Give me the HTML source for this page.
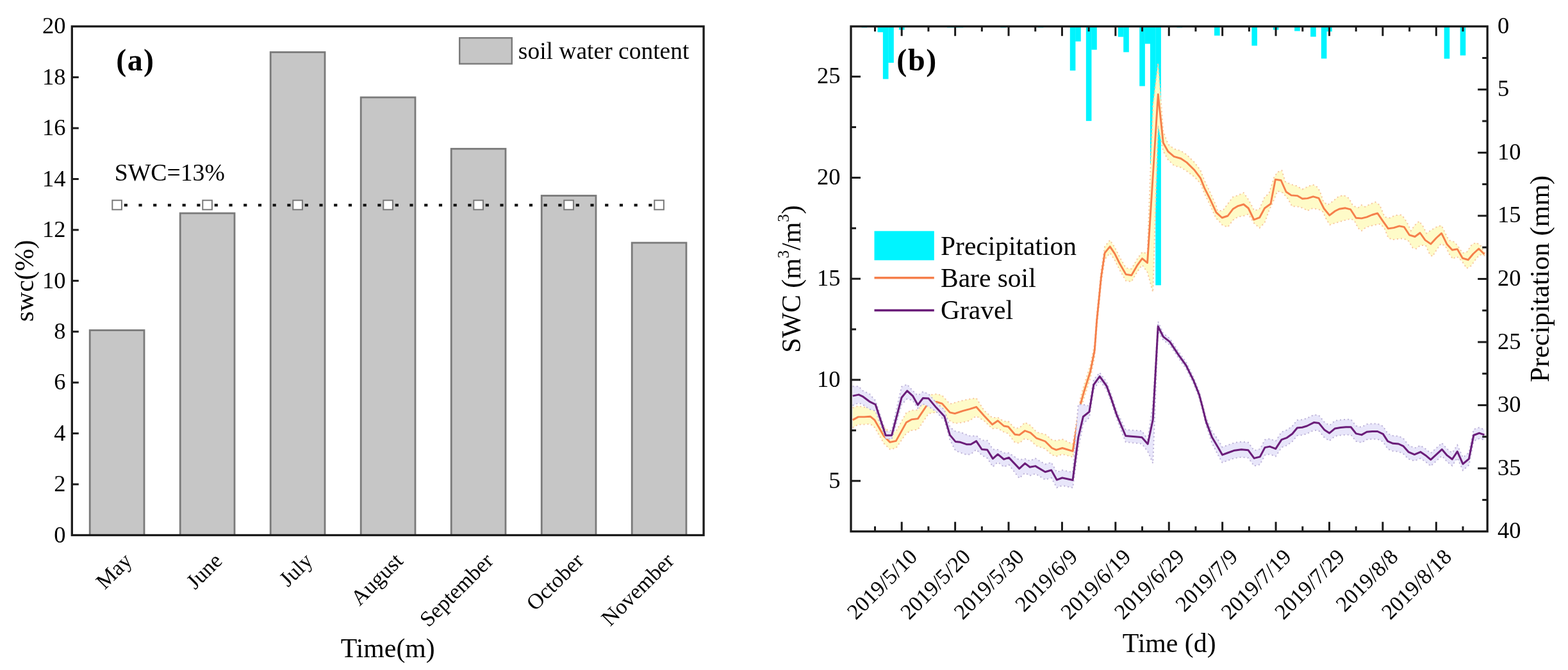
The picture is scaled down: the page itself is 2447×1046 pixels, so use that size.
<!DOCTYPE html>
<html><head><meta charset="utf-8"><title>Soil water content figure</title>
<style>html,body{margin:0;padding:0;background:#fff;overflow:hidden;}svg{display:block;}</style></head>
<body><svg width="2447" height="1046" viewBox="0 0 2447 1046" font-family="Liberation Serif, Times New Roman, serif" fill="#000">
<rect x="0" y="0" width="2447" height="1046" fill="#fff"/>
<rect x="140.20" y="515.60" width="84.8" height="319.90" fill="#c6c6c6" stroke="#7a7a7a" stroke-width="2.8"/>
<rect x="281.20" y="332.91" width="84.8" height="502.59" fill="#c6c6c6" stroke="#7a7a7a" stroke-width="2.8"/>
<rect x="422.20" y="81.51" width="84.8" height="753.99" fill="#c6c6c6" stroke="#7a7a7a" stroke-width="2.8"/>
<rect x="563.20" y="152.00" width="84.8" height="683.50" fill="#c6c6c6" stroke="#7a7a7a" stroke-width="2.8"/>
<rect x="704.20" y="232.31" width="84.8" height="603.19" fill="#c6c6c6" stroke="#7a7a7a" stroke-width="2.8"/>
<rect x="845.20" y="305.50" width="84.8" height="530.00" fill="#c6c6c6" stroke="#7a7a7a" stroke-width="2.8"/>
<rect x="986.20" y="379.02" width="84.8" height="456.48" fill="#c6c6c6" stroke="#7a7a7a" stroke-width="2.8"/>
<rect x="193.70" y="318.2" width="5.2" height="4.2" fill="#111"/>
<rect x="216.42" y="318.2" width="5.2" height="4.2" fill="#111"/>
<rect x="239.14" y="318.2" width="5.2" height="4.2" fill="#111"/>
<rect x="261.86" y="318.2" width="5.2" height="4.2" fill="#111"/>
<rect x="284.58" y="318.2" width="5.2" height="4.2" fill="#111"/>
<rect x="307.30" y="318.2" width="5.2" height="4.2" fill="#111"/>
<rect x="334.70" y="318.2" width="5.2" height="4.2" fill="#111"/>
<rect x="357.42" y="318.2" width="5.2" height="4.2" fill="#111"/>
<rect x="380.14" y="318.2" width="5.2" height="4.2" fill="#111"/>
<rect x="402.86" y="318.2" width="5.2" height="4.2" fill="#111"/>
<rect x="425.58" y="318.2" width="5.2" height="4.2" fill="#111"/>
<rect x="448.30" y="318.2" width="5.2" height="4.2" fill="#111"/>
<rect x="475.70" y="318.2" width="5.2" height="4.2" fill="#111"/>
<rect x="498.42" y="318.2" width="5.2" height="4.2" fill="#111"/>
<rect x="521.14" y="318.2" width="5.2" height="4.2" fill="#111"/>
<rect x="543.86" y="318.2" width="5.2" height="4.2" fill="#111"/>
<rect x="566.58" y="318.2" width="5.2" height="4.2" fill="#111"/>
<rect x="589.30" y="318.2" width="5.2" height="4.2" fill="#111"/>
<rect x="616.70" y="318.2" width="5.2" height="4.2" fill="#111"/>
<rect x="639.42" y="318.2" width="5.2" height="4.2" fill="#111"/>
<rect x="662.14" y="318.2" width="5.2" height="4.2" fill="#111"/>
<rect x="684.86" y="318.2" width="5.2" height="4.2" fill="#111"/>
<rect x="707.58" y="318.2" width="5.2" height="4.2" fill="#111"/>
<rect x="730.30" y="318.2" width="5.2" height="4.2" fill="#111"/>
<rect x="757.70" y="318.2" width="5.2" height="4.2" fill="#111"/>
<rect x="780.42" y="318.2" width="5.2" height="4.2" fill="#111"/>
<rect x="803.14" y="318.2" width="5.2" height="4.2" fill="#111"/>
<rect x="825.86" y="318.2" width="5.2" height="4.2" fill="#111"/>
<rect x="848.58" y="318.2" width="5.2" height="4.2" fill="#111"/>
<rect x="871.30" y="318.2" width="5.2" height="4.2" fill="#111"/>
<rect x="898.70" y="318.2" width="5.2" height="4.2" fill="#111"/>
<rect x="921.42" y="318.2" width="5.2" height="4.2" fill="#111"/>
<rect x="944.14" y="318.2" width="5.2" height="4.2" fill="#111"/>
<rect x="966.86" y="318.2" width="5.2" height="4.2" fill="#111"/>
<rect x="989.58" y="318.2" width="5.2" height="4.2" fill="#111"/>
<rect x="1012.30" y="318.2" width="5.2" height="4.2" fill="#111"/>
<rect x="175.30" y="312.7" width="14.6" height="14.6" fill="#fff" stroke="#7a7a7a" stroke-width="2"/>
<rect x="316.30" y="312.7" width="14.6" height="14.6" fill="#fff" stroke="#7a7a7a" stroke-width="2"/>
<rect x="457.30" y="312.7" width="14.6" height="14.6" fill="#fff" stroke="#7a7a7a" stroke-width="2"/>
<rect x="598.30" y="312.7" width="14.6" height="14.6" fill="#fff" stroke="#7a7a7a" stroke-width="2"/>
<rect x="739.30" y="312.7" width="14.6" height="14.6" fill="#fff" stroke="#7a7a7a" stroke-width="2"/>
<rect x="880.30" y="312.7" width="14.6" height="14.6" fill="#fff" stroke="#7a7a7a" stroke-width="2"/>
<rect x="1021.30" y="312.7" width="14.6" height="14.6" fill="#fff" stroke="#7a7a7a" stroke-width="2"/>
<rect x="112.3" y="41.2" width="985.80" height="794.30" fill="none" stroke="#1a1a1a" stroke-width="3.3"/>
<line x1="112.3" y1="756.07" x2="122.8" y2="756.07" stroke="#1a1a1a" stroke-width="3"/>
<line x1="112.3" y1="676.64" x2="122.8" y2="676.64" stroke="#1a1a1a" stroke-width="3"/>
<line x1="112.3" y1="597.21" x2="122.8" y2="597.21" stroke="#1a1a1a" stroke-width="3"/>
<line x1="112.3" y1="517.78" x2="122.8" y2="517.78" stroke="#1a1a1a" stroke-width="3"/>
<line x1="112.3" y1="438.35" x2="122.8" y2="438.35" stroke="#1a1a1a" stroke-width="3"/>
<line x1="112.3" y1="358.92" x2="122.8" y2="358.92" stroke="#1a1a1a" stroke-width="3"/>
<line x1="112.3" y1="279.49" x2="122.8" y2="279.49" stroke="#1a1a1a" stroke-width="3"/>
<line x1="112.3" y1="200.06" x2="122.8" y2="200.06" stroke="#1a1a1a" stroke-width="3"/>
<line x1="112.3" y1="120.63" x2="122.8" y2="120.63" stroke="#1a1a1a" stroke-width="3"/>
<text x="102.5" y="846.70" text-anchor="end" font-size="36.5">0</text>
<text x="102.5" y="767.27" text-anchor="end" font-size="36.5">2</text>
<text x="102.5" y="687.84" text-anchor="end" font-size="36.5">4</text>
<text x="102.5" y="608.41" text-anchor="end" font-size="36.5">6</text>
<text x="102.5" y="528.98" text-anchor="end" font-size="36.5">8</text>
<text x="102.5" y="449.55" text-anchor="end" font-size="36.5">10</text>
<text x="102.5" y="370.12" text-anchor="end" font-size="36.5">12</text>
<text x="102.5" y="290.69" text-anchor="end" font-size="36.5">14</text>
<text x="102.5" y="211.26" text-anchor="end" font-size="36.5">16</text>
<text x="102.5" y="131.83" text-anchor="end" font-size="36.5">18</text>
<text x="102.5" y="52.40" text-anchor="end" font-size="36.5">20</text>
<rect x="717.2" y="59.2" width="81.6" height="40.4" fill="#c6c6c6" stroke="#7a7a7a" stroke-width="2.4"/>
<text x="808.8" y="91.6" font-size="37.5">soil water content</text>
<text x="181.3" y="110" font-size="48" font-weight="bold" letter-spacing="1.4">(a)</text>
<text x="178.8" y="282.1" font-size="37.7">SWC=13%</text>
<text x="207.70" y="877.5" text-anchor="end" transform="rotate(-45 207.70 877.5)" font-size="34.0">May</text>
<text x="348.70" y="877.5" text-anchor="end" transform="rotate(-45 348.70 877.5)" font-size="34.0">June</text>
<text x="489.70" y="877.5" text-anchor="end" transform="rotate(-45 489.70 877.5)" font-size="34.0">July</text>
<text x="630.70" y="877.5" text-anchor="end" transform="rotate(-45 630.70 877.5)" font-size="34.0">August</text>
<text x="771.70" y="877.5" text-anchor="end" transform="rotate(-45 771.70 877.5)" font-size="34.0">September</text>
<text x="912.70" y="877.5" text-anchor="end" transform="rotate(-45 912.70 877.5)" font-size="34.0">October</text>
<text x="1053.70" y="877.5" text-anchor="end" transform="rotate(-45 1053.70 877.5)" font-size="34.0">November</text>
<text x="605.2" y="1026" text-anchor="middle" font-size="41.8">Time(m)</text>
<text x="52.2" y="438.4" text-anchor="middle" transform="rotate(-90 52.2 438.4)" font-size="41.8">swc(%)</text>
<rect x="1344.51" y="41.20" width="8.6" height="1.97" fill="#00f4ff"/>
<rect x="1369.54" y="41.20" width="8.6" height="9.07" fill="#00f4ff"/>
<rect x="1377.88" y="41.20" width="8.6" height="82.20" fill="#00f4ff"/>
<rect x="1386.22" y="41.20" width="8.6" height="56.77" fill="#00f4ff"/>
<rect x="1402.90" y="41.20" width="8.6" height="5.32" fill="#00f4ff"/>
<rect x="1477.97" y="41.20" width="8.6" height="1.97" fill="#00f4ff"/>
<rect x="1486.31" y="41.20" width="8.6" height="1.97" fill="#00f4ff"/>
<rect x="1494.65" y="41.20" width="8.6" height="1.97" fill="#00f4ff"/>
<rect x="1561.38" y="41.20" width="8.6" height="1.97" fill="#00f4ff"/>
<rect x="1619.77" y="41.20" width="8.6" height="1.97" fill="#00f4ff"/>
<rect x="1669.81" y="41.20" width="8.6" height="68.99" fill="#00f4ff"/>
<rect x="1678.15" y="41.20" width="8.6" height="23.46" fill="#00f4ff"/>
<rect x="1694.84" y="41.20" width="8.6" height="147.65" fill="#00f4ff"/>
<rect x="1703.18" y="41.20" width="8.6" height="36.47" fill="#00f4ff"/>
<rect x="1744.88" y="41.20" width="8.6" height="16.36" fill="#00f4ff"/>
<rect x="1753.22" y="41.20" width="8.6" height="40.21" fill="#00f4ff"/>
<rect x="1778.25" y="41.20" width="8.6" height="93.24" fill="#00f4ff"/>
<rect x="1786.59" y="41.20" width="8.6" height="27.20" fill="#00f4ff"/>
<rect x="1794.93" y="41.20" width="8.6" height="213.88" fill="#00f4ff"/>
<rect x="1803.27" y="41.20" width="8.6" height="404.11" fill="#00f4ff"/>
<rect x="1836.63" y="41.20" width="8.6" height="1.97" fill="#00f4ff"/>
<rect x="1895.02" y="41.20" width="8.6" height="14.39" fill="#00f4ff"/>
<rect x="1953.41" y="41.20" width="8.6" height="30.16" fill="#00f4ff"/>
<rect x="1986.77" y="41.20" width="8.6" height="5.32" fill="#00f4ff"/>
<rect x="2020.13" y="41.20" width="8.6" height="7.29" fill="#00f4ff"/>
<rect x="2045.16" y="41.20" width="8.6" height="16.16" fill="#00f4ff"/>
<rect x="2061.84" y="41.20" width="8.6" height="50.27" fill="#00f4ff"/>
<rect x="2070.18" y="41.20" width="8.6" height="8.08" fill="#00f4ff"/>
<rect x="2253.68" y="41.20" width="8.6" height="50.46" fill="#00f4ff"/>
<rect x="2278.70" y="41.20" width="8.6" height="45.34" fill="#00f4ff"/>
<polygon points="1330.7,636.7 1339.4,633.8 1348.8,635.7 1358.1,635.2 1364.8,640.6 1379.5,666.0 1388.9,675.4 1398.3,673.4 1414.3,644.6 1422.4,640.6 1432.4,640.2 1449.1,616.8 1461.7,615.1 1470.3,617.5 1482.4,630.7 1490.1,628.6 1503.0,625.1 1513.3,623.1 1523.6,621.6 1535.7,640.8 1548.6,652.2 1557.2,651.8 1566.6,657.8 1573.5,657.8 1583.8,668.7 1590.7,668.2 1599.5,659.6 1608.2,664.2 1617.7,674.7 1631.1,678.1 1641.6,686.6 1648.3,688.1 1657.9,685.8 1674.1,693.5 1686.1,621.4 1691.3,602.7 1701.6,570.0 1708.2,537.3 1711.7,490.0 1714.8,459.4 1718.5,422.1 1724.1,384.9 1732.2,374.9 1739.7,386.1 1747.1,401.0 1757.1,418.4 1765.8,419.7 1774.5,404.7 1782.5,393.6 1790.6,396.0 1799.2,165.0 1807.3,98.6 1815.3,205.0 1823.0,225.3 1832.1,232.4 1842.9,235.5 1852.0,241.6 1864.3,253.8 1873.5,266.1 1879.6,281.8 1888.8,300.8 1898.0,321.4 1900.0,329.0 1908.0,329.0 1916.1,318.3 1924.1,307.6 1932.1,304.9 1940.8,300.9 1948.2,311.6 1957.6,329.0 1965.6,326.0 1973.6,307.6 1980.3,302.2 1988.4,276.8 1993.7,268.7 2000.4,266.1 2005.8,283.5 2013.8,287.5 2023.2,290.2 2032.5,295.5 2040.6,291.5 2047.3,288.8 2050.0,288.7 2055.4,292.0 2060.0,298.7 2064.7,313.5 2071.4,320.1 2079.4,314.8 2088.8,306.8 2096.8,304.8 2104.9,309.4 2111.6,321.5 2119.6,324.2 2124.9,320.1 2130.3,322.8 2138.3,318.8 2146.3,315.5 2153.0,320.1 2161.1,338.9 2169.1,340.2 2177.1,336.2 2186.5,335.5 2190.0,338.7 2195.4,346.8 2202.0,360.2 2207.4,352.1 2214.8,345.4 2220.8,353.5 2226.1,364.2 2234.2,358.8 2243.5,353.5 2249.6,352.1 2255.6,364.2 2260.9,374.9 2269.0,377.6 2274.3,382.9 2282.4,395.0 2289.0,393.6 2297.1,381.6 2303.8,378.9 2310.5,382.9 2317.2,395.0 2317.2,399.0 2309.1,397.6 2302.4,405.7 2295.7,415.0 2289.0,419.0 2281.0,407.0 2273.0,400.3 2267.6,404.3 2262.3,397.6 2255.6,384.2 2248.9,380.2 2242.2,389.6 2235.5,400.3 2231.5,397.6 2224.8,382.9 2216.8,382.9 2210.1,388.3 2204.7,386.9 2198.0,376.2 2190.0,372.2 2189.2,372.3 2181.1,373.0 2173.1,374.3 2166.4,371.0 2161.1,357.6 2154.4,349.6 2146.3,350.9 2138.3,352.9 2131.6,354.9 2124.9,360.3 2119.6,356.3 2114.2,345.6 2108.9,341.6 2102.2,342.9 2092.8,345.6 2083.5,348.2 2075.4,350.9 2070.1,342.9 2064.7,330.8 2058.0,326.8 2050.0,325.5 2048.6,325.0 2040.6,329.0 2033.9,325.0 2024.5,322.3 2016.5,322.3 2009.8,310.2 2001.8,300.9 1993.7,298.2 1987.0,314.3 1980.3,329.0 1973.6,347.7 1965.6,355.8 1957.6,349.1 1948.2,334.3 1940.8,337.0 1932.1,338.4 1924.1,343.7 1916.1,354.4 1908.0,351.8 1900.0,342.4 1898.0,341.4 1888.8,320.8 1879.6,301.8 1873.5,286.5 1864.3,276.4 1852.0,267.1 1842.9,261.5 1832.1,258.4 1823.0,249.5 1815.3,236.0 1807.3,196.0 1799.2,456.0 1790.6,425.0 1782.5,413.6 1774.5,424.7 1765.8,439.7 1757.1,438.4 1747.1,421.0 1739.7,406.1 1732.2,394.9 1724.1,404.9 1718.5,442.1 1714.8,479.4 1711.7,510.0 1708.2,557.3 1701.6,590.0 1691.3,622.7 1686.1,641.4 1674.1,713.4 1657.9,709.1 1648.3,712.5 1641.6,710.1 1631.1,700.6 1617.7,696.2 1608.2,687.6 1599.5,684.5 1590.7,691.8 1583.8,690.8 1573.5,677.0 1566.6,674.4 1557.2,668.7 1548.6,669.2 1535.7,656.9 1523.6,649.6 1513.3,656.6 1503.0,659.3 1490.1,661.1 1482.4,657.0 1470.3,644.9 1461.7,643.4 1449.1,645.8 1432.4,670.6 1422.4,671.9 1414.3,676.6 1398.3,699.5 1388.9,701.5 1379.5,692.3 1364.8,667.1 1358.1,661.8 1348.8,662.6 1339.4,662.8 1330.7,667.6" fill="#fefbc8"/>
<polyline points="1330.7,636.7 1339.4,633.8 1348.8,635.7 1358.1,635.2 1364.8,640.6 1379.5,666.0 1388.9,675.4 1398.3,673.4 1414.3,644.6 1422.4,640.6 1432.4,640.2 1449.1,616.8 1461.7,615.1 1470.3,617.5 1482.4,630.7 1490.1,628.6 1503.0,625.1 1513.3,623.1 1523.6,621.6 1535.7,640.8 1548.6,652.2 1557.2,651.8 1566.6,657.8 1573.5,657.8 1583.8,668.7 1590.7,668.2 1599.5,659.6 1608.2,664.2 1617.7,674.7 1631.1,678.1 1641.6,686.6 1648.3,688.1 1657.9,685.8 1674.1,693.5 1686.1,621.4 1691.3,602.7 1701.6,570.0 1708.2,537.3 1711.7,490.0 1714.8,459.4 1718.5,422.1 1724.1,384.9 1732.2,374.9 1739.7,386.1 1747.1,401.0 1757.1,418.4 1765.8,419.7 1774.5,404.7 1782.5,393.6 1790.6,396.0 1799.2,165.0 1807.3,98.6 1815.3,205.0 1823.0,225.3 1832.1,232.4 1842.9,235.5 1852.0,241.6 1864.3,253.8 1873.5,266.1 1879.6,281.8 1888.8,300.8 1898.0,321.4 1900.0,329.0 1908.0,329.0 1916.1,318.3 1924.1,307.6 1932.1,304.9 1940.8,300.9 1948.2,311.6 1957.6,329.0 1965.6,326.0 1973.6,307.6 1980.3,302.2 1988.4,276.8 1993.7,268.7 2000.4,266.1 2005.8,283.5 2013.8,287.5 2023.2,290.2 2032.5,295.5 2040.6,291.5 2047.3,288.8 2050.0,288.7 2055.4,292.0 2060.0,298.7 2064.7,313.5 2071.4,320.1 2079.4,314.8 2088.8,306.8 2096.8,304.8 2104.9,309.4 2111.6,321.5 2119.6,324.2 2124.9,320.1 2130.3,322.8 2138.3,318.8 2146.3,315.5 2153.0,320.1 2161.1,338.9 2169.1,340.2 2177.1,336.2 2186.5,335.5 2190.0,338.7 2195.4,346.8 2202.0,360.2 2207.4,352.1 2214.8,345.4 2220.8,353.5 2226.1,364.2 2234.2,358.8 2243.5,353.5 2249.6,352.1 2255.6,364.2 2260.9,374.9 2269.0,377.6 2274.3,382.9 2282.4,395.0 2289.0,393.6 2297.1,381.6 2303.8,378.9 2310.5,382.9 2317.2,395.0" fill="none" stroke="#f7c6a0" stroke-width="2" stroke-dasharray="2 4"/>
<polyline points="1330.7,667.6 1339.4,662.8 1348.8,662.6 1358.1,661.8 1364.8,667.1 1379.5,692.3 1388.9,701.5 1398.3,699.5 1414.3,676.6 1422.4,671.9 1432.4,670.6 1449.1,645.8 1461.7,643.4 1470.3,644.9 1482.4,657.0 1490.1,661.1 1503.0,659.3 1513.3,656.6 1523.6,649.6 1535.7,656.9 1548.6,669.2 1557.2,668.7 1566.6,674.4 1573.5,677.0 1583.8,690.8 1590.7,691.8 1599.5,684.5 1608.2,687.6 1617.7,696.2 1631.1,700.6 1641.6,710.1 1648.3,712.5 1657.9,709.1 1674.1,713.4 1686.1,641.4 1691.3,622.7 1701.6,590.0 1708.2,557.3 1711.7,510.0 1714.8,479.4 1718.5,442.1 1724.1,404.9 1732.2,394.9 1739.7,406.1 1747.1,421.0 1757.1,438.4 1765.8,439.7 1774.5,424.7 1782.5,413.6 1790.6,425.0 1799.2,456.0 1807.3,196.0 1815.3,236.0 1823.0,249.5 1832.1,258.4 1842.9,261.5 1852.0,267.1 1864.3,276.4 1873.5,286.5 1879.6,301.8 1888.8,320.8 1898.0,341.4 1900.0,342.4 1908.0,351.8 1916.1,354.4 1924.1,343.7 1932.1,338.4 1940.8,337.0 1948.2,334.3 1957.6,349.1 1965.6,355.8 1973.6,347.7 1980.3,329.0 1987.0,314.3 1993.7,298.2 2001.8,300.9 2009.8,310.2 2016.5,322.3 2024.5,322.3 2033.9,325.0 2040.6,329.0 2048.6,325.0 2050.0,325.5 2058.0,326.8 2064.7,330.8 2070.1,342.9 2075.4,350.9 2083.5,348.2 2092.8,345.6 2102.2,342.9 2108.9,341.6 2114.2,345.6 2119.6,356.3 2124.9,360.3 2131.6,354.9 2138.3,352.9 2146.3,350.9 2154.4,349.6 2161.1,357.6 2166.4,371.0 2173.1,374.3 2181.1,373.0 2189.2,372.3 2190.0,372.2 2198.0,376.2 2204.7,386.9 2210.1,388.3 2216.8,382.9 2224.8,382.9 2231.5,397.6 2235.5,400.3 2242.2,389.6 2248.9,380.2 2255.6,384.2 2262.3,397.6 2267.6,404.3 2273.0,400.3 2281.0,407.0 2289.0,419.0 2295.7,415.0 2302.4,405.7 2309.1,397.6 2317.2,399.0" fill="none" stroke="#f7c6a0" stroke-width="2" stroke-dasharray="2 4"/>
<polyline points="1330.7,655.6 1339.4,650.9 1348.8,650.9 1358.1,650.2 1364.8,655.6 1379.5,681.0 1388.9,690.4 1398.3,688.4 1414.3,659.6 1422.4,654.9 1432.4,653.6 1449.1,628.8 1461.7,627.5 1470.3,630.1 1482.4,643.9 1490.1,645.6 1503.0,641.3 1513.3,638.7 1523.6,635.3 1535.7,649.0 1548.6,662.8 1557.2,656.8 1566.6,665.0 1573.5,666.2 1583.8,678.3 1590.7,679.1 1599.5,672.5 1608.2,675.6 1617.7,684.2 1631.1,689.0 1641.6,699.5 1648.3,702.4 1657.9,699.5 1674.1,704.3 1686.1,631.6 1691.3,612.7 1701.6,580.0 1708.2,547.3 1711.7,500.0 1714.8,469.4 1718.5,432.1 1724.1,394.9 1732.2,384.9 1739.7,396.1 1747.1,411.0 1757.1,428.4 1765.8,429.7 1774.5,414.7 1782.5,403.6 1790.6,410.4 1807.3,147.3 1815.3,223.0 1823.0,236.7 1832.1,244.4 1842.9,247.5 1852.0,253.6 1864.3,265.8 1873.5,278.1 1879.6,293.4 1888.8,311.7 1898.0,331.6 1907.1,340.0 1916.1,337.0 1924.1,326.3 1932.1,321.6 1940.8,319.0 1948.2,325.0 1956.9,343.0 1965.6,339.7 1973.6,325.0 1983.0,318.3 1990.4,280.1 1999.1,281.5 2007.1,299.5 2015.1,304.9 2024.5,305.6 2032.5,310.2 2040.6,309.6 2049.3,306.9 2058.0,309.4 2066.1,325.5 2074.8,336.2 2083.5,329.5 2090.1,326.2 2099.5,324.8 2107.5,326.8 2116.2,340.2 2124.9,340.9 2133.0,338.9 2141.0,335.5 2149.7,332.9 2158.4,345.6 2166.4,356.9 2175.1,355.6 2183.8,352.9 2191.2,354.3 2199.4,366.8 2208.1,369.5 2216.1,363.5 2224.1,374.9 2232.8,380.9 2241.5,371.5 2249.6,364.2 2258.3,381.6 2266.3,390.3 2274.3,388.9 2282.4,403.0 2291.1,405.7 2299.1,396.3 2307.8,388.3 2316.5,397.0" fill="none" stroke="#f57f4b" stroke-width="2.9" stroke-linejoin="round"/>
<polygon points="1330.7,603.2 1340.1,603.2 1346.1,609.8 1356.8,614.9 1366.2,625.5 1382.2,673.7 1391.6,671.8 1407.0,603.8 1415.7,600.2 1424.4,610.0 1432.4,617.5 1440.4,611.6 1449.1,615.1 1460.9,628.4 1473.8,639.8 1482.4,666.9 1491.0,673.4 1498.7,674.7 1508.2,678.6 1515.0,681.0 1523.6,680.2 1532.2,687.5 1540.8,687.8 1549.4,701.5 1557.2,702.1 1566.6,707.2 1574.4,707.2 1590.7,718.1 1599.6,716.2 1607.2,719.6 1615.8,715.6 1631.1,724.8 1640.7,722.0 1649.3,737.2 1657.7,734.0 1674.1,737.5 1682.7,631.6 1690.4,631.6 1699.9,633.8 1706.8,592.9 1716.2,581.7 1726.9,596.5 1733.8,614.9 1743.0,642.4 1756.7,670.9 1782.0,672.8 1791.2,686.0 1799.2,630.0 1807.2,502.0 1815.3,520.6 1825.6,528.6 1839.4,549.3 1850.9,565.3 1862.3,588.3 1871.5,611.3 1876.1,628.6 1882.2,652.3 1891.4,673.6 1900.6,685.9 1907.5,698.1 1915.9,695.0 1926.6,691.2 1937.3,689.7 1948.0,690.8 1957.2,703.4 1966.3,701.1 1974.0,686.6 1981.6,685.1 1990.8,688.6 2000.0,674.4 2008.4,671.3 2016.8,665.2 2024.4,656.0 2032.1,655.3 2039.7,653.0 2050.4,647.6 2058.1,648.4 2066.7,658.9 2074.7,664.2 2083.4,656.9 2092.1,655.5 2100.2,654.8 2108.2,654.8 2116.2,664.9 2124.9,666.9 2133.0,662.2 2141.6,661.5 2149.7,661.5 2158.4,665.6 2165.7,676.9 2173.8,680.3 2182.5,681.0 2189.8,684.3 2198.0,694.7 2207.4,699.6 2216.8,695.6 2224.8,700.9 2232.8,707.6 2241.5,699.6 2250.2,691.6 2258.3,700.9 2266.3,707.0 2274.3,694.9 2283.0,714.3 2292.4,706.5 2299.8,670.2 2308.5,667.5 2316.5,670.8 2316.5,686.8 2308.5,684.7 2299.8,688.8 2292.4,726.1 2283.0,734.3 2274.3,714.9 2266.3,727.0 2258.3,720.9 2250.2,711.6 2241.5,719.6 2232.8,727.6 2224.8,720.9 2216.8,715.6 2207.4,719.6 2198.0,716.5 2189.8,708.3 2182.5,705.0 2173.8,704.3 2165.7,700.9 2158.4,689.6 2149.7,685.5 2141.6,685.5 2133.0,686.2 2124.9,690.9 2116.2,688.9 2108.2,678.8 2100.2,678.8 2092.1,679.5 2083.4,680.9 2074.7,688.2 2066.7,682.9 2058.1,672.4 2050.4,671.6 2039.7,677.0 2032.1,679.3 2024.4,680.0 2016.8,689.2 2008.4,695.3 2000.0,698.4 1990.8,712.6 1981.6,709.1 1974.0,710.6 1966.3,725.1 1957.2,727.4 1948.0,714.8 1937.3,713.7 1926.6,715.2 1915.9,719.0 1907.5,722.1 1900.6,709.9 1891.4,691.6 1882.2,663.9 1876.1,638.6 1871.5,621.3 1862.3,598.3 1850.9,575.3 1839.4,559.3 1825.6,538.6 1815.3,530.6 1807.2,517.0 1799.2,723.0 1791.2,705.0 1782.0,692.8 1756.7,690.1 1743.0,654.4 1733.8,626.9 1726.9,608.5 1716.2,593.7 1706.8,608.3 1699.9,651.8 1690.4,662.0 1682.7,700.0 1674.1,761.5 1657.7,758.0 1649.3,761.2 1640.7,746.0 1631.1,748.8 1615.8,739.6 1607.2,742.7 1599.6,738.3 1590.7,746.6 1574.4,725.5 1566.6,728.9 1557.2,721.5 1549.4,728.7 1540.8,715.3 1532.2,710.6 1523.6,701.8 1515.0,709.2 1508.2,709.9 1498.7,706.6 1491.0,703.4 1482.4,686.4 1473.8,656.5 1460.9,642.6 1449.1,634.6 1440.4,630.7 1432.4,637.4 1424.4,625.4 1415.7,622.6 1407.0,631.8 1391.6,685.7 1382.2,684.7 1366.2,641.4 1356.8,638.8 1346.1,631.4 1340.1,629.1 1330.7,633.0" fill="#e8e6fa"/>
<polyline points="1330.7,603.2 1340.1,603.2 1346.1,609.8 1356.8,614.9 1366.2,625.5 1382.2,673.7 1391.6,671.8 1407.0,603.8 1415.7,600.2 1424.4,610.0 1432.4,617.5 1440.4,611.6 1449.1,615.1 1460.9,628.4 1473.8,639.8 1482.4,666.9 1491.0,673.4 1498.7,674.7 1508.2,678.6 1515.0,681.0 1523.6,680.2 1532.2,687.5 1540.8,687.8 1549.4,701.5 1557.2,702.1 1566.6,707.2 1574.4,707.2 1590.7,718.1 1599.6,716.2 1607.2,719.6 1615.8,715.6 1631.1,724.8 1640.7,722.0 1649.3,737.2 1657.7,734.0 1674.1,737.5 1682.7,631.6 1690.4,631.6 1699.9,633.8 1706.8,592.9 1716.2,581.7 1726.9,596.5 1733.8,614.9 1743.0,642.4 1756.7,670.9 1782.0,672.8 1791.2,686.0 1799.2,630.0 1807.2,502.0 1815.3,520.6 1825.6,528.6 1839.4,549.3 1850.9,565.3 1862.3,588.3 1871.5,611.3 1876.1,628.6 1882.2,652.3 1891.4,673.6 1900.6,685.9 1907.5,698.1 1915.9,695.0 1926.6,691.2 1937.3,689.7 1948.0,690.8 1957.2,703.4 1966.3,701.1 1974.0,686.6 1981.6,685.1 1990.8,688.6 2000.0,674.4 2008.4,671.3 2016.8,665.2 2024.4,656.0 2032.1,655.3 2039.7,653.0 2050.4,647.6 2058.1,648.4 2066.7,658.9 2074.7,664.2 2083.4,656.9 2092.1,655.5 2100.2,654.8 2108.2,654.8 2116.2,664.9 2124.9,666.9 2133.0,662.2 2141.6,661.5 2149.7,661.5 2158.4,665.6 2165.7,676.9 2173.8,680.3 2182.5,681.0 2189.8,684.3 2198.0,694.7 2207.4,699.6 2216.8,695.6 2224.8,700.9 2232.8,707.6 2241.5,699.6 2250.2,691.6 2258.3,700.9 2266.3,707.0 2274.3,694.9 2283.0,714.3 2292.4,706.5 2299.8,670.2 2308.5,667.5 2316.5,670.8" fill="none" stroke="#bdb3d8" stroke-width="2" stroke-dasharray="2 4"/>
<polyline points="1330.7,633.0 1340.1,629.1 1346.1,631.4 1356.8,638.8 1366.2,641.4 1382.2,684.7 1391.6,685.7 1407.0,631.8 1415.7,622.6 1424.4,625.4 1432.4,637.4 1440.4,630.7 1449.1,634.6 1460.9,642.6 1473.8,656.5 1482.4,686.4 1491.0,703.4 1498.7,706.6 1508.2,709.9 1515.0,709.2 1523.6,701.8 1532.2,710.6 1540.8,715.3 1549.4,728.7 1557.2,721.5 1566.6,728.9 1574.4,725.5 1590.7,746.6 1599.6,738.3 1607.2,742.7 1615.8,739.6 1631.1,748.8 1640.7,746.0 1649.3,761.2 1657.7,758.0 1674.1,761.5 1682.7,700.0 1690.4,662.0 1699.9,651.8 1706.8,608.3 1716.2,593.7 1726.9,608.5 1733.8,626.9 1743.0,654.4 1756.7,690.1 1782.0,692.8 1791.2,705.0 1799.2,723.0 1807.2,517.0 1815.3,530.6 1825.6,538.6 1839.4,559.3 1850.9,575.3 1862.3,598.3 1871.5,621.3 1876.1,638.6 1882.2,663.9 1891.4,691.6 1900.6,709.9 1907.5,722.1 1915.9,719.0 1926.6,715.2 1937.3,713.7 1948.0,714.8 1957.2,727.4 1966.3,725.1 1974.0,710.6 1981.6,709.1 1990.8,712.6 2000.0,698.4 2008.4,695.3 2016.8,689.2 2024.4,680.0 2032.1,679.3 2039.7,677.0 2050.4,671.6 2058.1,672.4 2066.7,682.9 2074.7,688.2 2083.4,680.9 2092.1,679.5 2100.2,678.8 2108.2,678.8 2116.2,688.9 2124.9,690.9 2133.0,686.2 2141.6,685.5 2149.7,685.5 2158.4,689.6 2165.7,700.9 2173.8,704.3 2182.5,705.0 2189.8,708.3 2198.0,716.5 2207.4,719.6 2216.8,715.6 2224.8,720.9 2232.8,727.6 2241.5,719.6 2250.2,711.6 2258.3,720.9 2266.3,727.0 2274.3,714.9 2283.0,734.3 2292.4,726.1 2299.8,688.8 2308.5,684.7 2316.5,686.8" fill="none" stroke="#bdb3d8" stroke-width="2" stroke-dasharray="2 4"/>
<polyline points="1330.7,618.1 1340.1,616.1 1346.1,618.8 1356.8,626.8 1366.2,631.5 1382.2,679.7 1391.6,679.7 1407.0,620.8 1415.7,610.1 1424.4,618.1 1432.4,632.2 1440.4,621.5 1449.1,622.1 1460.9,636.1 1473.8,649.9 1482.4,679.1 1491.0,689.4 1498.7,690.3 1508.2,693.7 1515.0,693.7 1523.6,688.6 1532.2,701.5 1540.8,702.3 1549.4,716.1 1557.2,709.2 1566.6,717.0 1574.4,714.4 1590.7,731.6 1599.6,723.4 1607.2,729.2 1615.8,727.6 1631.1,736.8 1640.7,734.0 1649.3,749.2 1657.7,746.0 1674.1,749.5 1682.7,683.2 1690.4,650.5 1699.9,642.8 1706.8,600.6 1716.2,587.7 1726.9,602.5 1733.8,620.9 1743.0,648.4 1756.7,680.5 1782.0,682.8 1791.2,693.2 1799.2,655.3 1807.2,509.5 1815.3,525.6 1825.6,533.6 1839.4,554.3 1850.9,570.3 1862.3,593.3 1871.5,616.3 1876.1,633.6 1882.2,658.1 1891.4,682.6 1900.6,697.9 1907.5,710.1 1915.9,707.0 1926.6,703.2 1937.3,701.7 1948.0,702.8 1957.2,715.4 1966.3,713.1 1974.0,698.6 1981.6,697.1 1990.8,700.6 2000.0,686.4 2008.4,683.3 2016.8,677.2 2024.4,668.0 2032.1,667.3 2039.7,665.0 2050.4,659.6 2058.1,660.4 2066.7,670.9 2074.7,676.2 2083.4,668.9 2092.1,667.5 2100.2,666.8 2108.2,666.8 2116.2,676.9 2124.9,678.9 2133.0,674.2 2141.6,673.5 2149.7,673.5 2158.4,677.6 2165.7,688.9 2173.8,692.3 2182.5,693.0 2189.8,696.3 2198.0,705.6 2207.4,709.6 2216.8,705.6 2224.8,710.9 2232.8,717.6 2241.5,709.6 2250.2,701.6 2258.3,710.9 2266.3,717.0 2274.3,704.9 2283.0,724.3 2292.4,716.3 2299.8,679.5 2308.5,676.1 2316.5,678.8" fill="none" stroke="#6a1d79" stroke-width="3.0" stroke-linejoin="round"/>
<rect x="1328.0" y="41.2" width="993.20" height="788.50" fill="none" stroke="#1a1a1a" stroke-width="3.3"/>
<line x1="1328.0" y1="750.80" x2="1343.0" y2="750.80" stroke="#1a1a1a" stroke-width="3"/>
<line x1="1328.0" y1="671.90" x2="1336.0" y2="671.90" stroke="#1a1a1a" stroke-width="3"/>
<line x1="1328.0" y1="593.00" x2="1343.0" y2="593.00" stroke="#1a1a1a" stroke-width="3"/>
<line x1="1328.0" y1="514.10" x2="1336.0" y2="514.10" stroke="#1a1a1a" stroke-width="3"/>
<line x1="1328.0" y1="435.20" x2="1343.0" y2="435.20" stroke="#1a1a1a" stroke-width="3"/>
<line x1="1328.0" y1="356.30" x2="1336.0" y2="356.30" stroke="#1a1a1a" stroke-width="3"/>
<line x1="1328.0" y1="277.40" x2="1343.0" y2="277.40" stroke="#1a1a1a" stroke-width="3"/>
<line x1="1328.0" y1="198.50" x2="1336.0" y2="198.50" stroke="#1a1a1a" stroke-width="3"/>
<line x1="1328.0" y1="119.60" x2="1343.0" y2="119.60" stroke="#1a1a1a" stroke-width="3"/>
<line x1="2321.2" y1="90.48" x2="2313.2" y2="90.48" stroke="#1a1a1a" stroke-width="3"/>
<line x1="2321.2" y1="139.76" x2="2306.2" y2="139.76" stroke="#1a1a1a" stroke-width="3"/>
<line x1="2321.2" y1="189.04" x2="2313.2" y2="189.04" stroke="#1a1a1a" stroke-width="3"/>
<line x1="2321.2" y1="238.32" x2="2306.2" y2="238.32" stroke="#1a1a1a" stroke-width="3"/>
<line x1="2321.2" y1="287.61" x2="2313.2" y2="287.61" stroke="#1a1a1a" stroke-width="3"/>
<line x1="2321.2" y1="336.89" x2="2306.2" y2="336.89" stroke="#1a1a1a" stroke-width="3"/>
<line x1="2321.2" y1="386.17" x2="2313.2" y2="386.17" stroke="#1a1a1a" stroke-width="3"/>
<line x1="2321.2" y1="435.45" x2="2306.2" y2="435.45" stroke="#1a1a1a" stroke-width="3"/>
<line x1="2321.2" y1="484.73" x2="2313.2" y2="484.73" stroke="#1a1a1a" stroke-width="3"/>
<line x1="2321.2" y1="534.01" x2="2306.2" y2="534.01" stroke="#1a1a1a" stroke-width="3"/>
<line x1="2321.2" y1="583.29" x2="2313.2" y2="583.29" stroke="#1a1a1a" stroke-width="3"/>
<line x1="2321.2" y1="632.58" x2="2306.2" y2="632.58" stroke="#1a1a1a" stroke-width="3"/>
<line x1="2321.2" y1="681.86" x2="2313.2" y2="681.86" stroke="#1a1a1a" stroke-width="3"/>
<line x1="2321.2" y1="731.14" x2="2306.2" y2="731.14" stroke="#1a1a1a" stroke-width="3"/>
<line x1="2321.2" y1="780.42" x2="2313.2" y2="780.42" stroke="#1a1a1a" stroke-width="3"/>
<line x1="1365.50" y1="829.7" x2="1365.50" y2="821.7" stroke="#1a1a1a" stroke-width="3"/>
<line x1="1365.50" y1="41.2" x2="1365.50" y2="49.2" stroke="#1a1a1a" stroke-width="3"/>
<line x1="1407.20" y1="829.7" x2="1407.20" y2="814.7" stroke="#1a1a1a" stroke-width="3"/>
<line x1="1407.20" y1="41.2" x2="1407.20" y2="56.2" stroke="#1a1a1a" stroke-width="3"/>
<line x1="1448.90" y1="829.7" x2="1448.90" y2="821.7" stroke="#1a1a1a" stroke-width="3"/>
<line x1="1448.90" y1="41.2" x2="1448.90" y2="49.2" stroke="#1a1a1a" stroke-width="3"/>
<line x1="1490.61" y1="829.7" x2="1490.61" y2="814.7" stroke="#1a1a1a" stroke-width="3"/>
<line x1="1490.61" y1="41.2" x2="1490.61" y2="56.2" stroke="#1a1a1a" stroke-width="3"/>
<line x1="1532.32" y1="829.7" x2="1532.32" y2="821.7" stroke="#1a1a1a" stroke-width="3"/>
<line x1="1532.32" y1="41.2" x2="1532.32" y2="49.2" stroke="#1a1a1a" stroke-width="3"/>
<line x1="1574.02" y1="829.7" x2="1574.02" y2="814.7" stroke="#1a1a1a" stroke-width="3"/>
<line x1="1574.02" y1="41.2" x2="1574.02" y2="56.2" stroke="#1a1a1a" stroke-width="3"/>
<line x1="1615.72" y1="829.7" x2="1615.72" y2="821.7" stroke="#1a1a1a" stroke-width="3"/>
<line x1="1615.72" y1="41.2" x2="1615.72" y2="49.2" stroke="#1a1a1a" stroke-width="3"/>
<line x1="1657.43" y1="829.7" x2="1657.43" y2="814.7" stroke="#1a1a1a" stroke-width="3"/>
<line x1="1657.43" y1="41.2" x2="1657.43" y2="56.2" stroke="#1a1a1a" stroke-width="3"/>
<line x1="1699.13" y1="829.7" x2="1699.13" y2="821.7" stroke="#1a1a1a" stroke-width="3"/>
<line x1="1699.13" y1="41.2" x2="1699.13" y2="49.2" stroke="#1a1a1a" stroke-width="3"/>
<line x1="1740.84" y1="829.7" x2="1740.84" y2="814.7" stroke="#1a1a1a" stroke-width="3"/>
<line x1="1740.84" y1="41.2" x2="1740.84" y2="56.2" stroke="#1a1a1a" stroke-width="3"/>
<line x1="1782.55" y1="829.7" x2="1782.55" y2="821.7" stroke="#1a1a1a" stroke-width="3"/>
<line x1="1782.55" y1="41.2" x2="1782.55" y2="49.2" stroke="#1a1a1a" stroke-width="3"/>
<line x1="1824.25" y1="829.7" x2="1824.25" y2="814.7" stroke="#1a1a1a" stroke-width="3"/>
<line x1="1824.25" y1="41.2" x2="1824.25" y2="56.2" stroke="#1a1a1a" stroke-width="3"/>
<line x1="1865.95" y1="829.7" x2="1865.95" y2="821.7" stroke="#1a1a1a" stroke-width="3"/>
<line x1="1865.95" y1="41.2" x2="1865.95" y2="49.2" stroke="#1a1a1a" stroke-width="3"/>
<line x1="1907.66" y1="829.7" x2="1907.66" y2="814.7" stroke="#1a1a1a" stroke-width="3"/>
<line x1="1907.66" y1="41.2" x2="1907.66" y2="56.2" stroke="#1a1a1a" stroke-width="3"/>
<line x1="1949.37" y1="829.7" x2="1949.37" y2="821.7" stroke="#1a1a1a" stroke-width="3"/>
<line x1="1949.37" y1="41.2" x2="1949.37" y2="49.2" stroke="#1a1a1a" stroke-width="3"/>
<line x1="1991.07" y1="829.7" x2="1991.07" y2="814.7" stroke="#1a1a1a" stroke-width="3"/>
<line x1="1991.07" y1="41.2" x2="1991.07" y2="56.2" stroke="#1a1a1a" stroke-width="3"/>
<line x1="2032.78" y1="829.7" x2="2032.78" y2="821.7" stroke="#1a1a1a" stroke-width="3"/>
<line x1="2032.78" y1="41.2" x2="2032.78" y2="49.2" stroke="#1a1a1a" stroke-width="3"/>
<line x1="2074.48" y1="829.7" x2="2074.48" y2="814.7" stroke="#1a1a1a" stroke-width="3"/>
<line x1="2074.48" y1="41.2" x2="2074.48" y2="56.2" stroke="#1a1a1a" stroke-width="3"/>
<line x1="2116.18" y1="829.7" x2="2116.18" y2="821.7" stroke="#1a1a1a" stroke-width="3"/>
<line x1="2116.18" y1="41.2" x2="2116.18" y2="49.2" stroke="#1a1a1a" stroke-width="3"/>
<line x1="2157.89" y1="829.7" x2="2157.89" y2="814.7" stroke="#1a1a1a" stroke-width="3"/>
<line x1="2157.89" y1="41.2" x2="2157.89" y2="56.2" stroke="#1a1a1a" stroke-width="3"/>
<line x1="2199.60" y1="829.7" x2="2199.60" y2="821.7" stroke="#1a1a1a" stroke-width="3"/>
<line x1="2199.60" y1="41.2" x2="2199.60" y2="49.2" stroke="#1a1a1a" stroke-width="3"/>
<line x1="2241.30" y1="829.7" x2="2241.30" y2="814.7" stroke="#1a1a1a" stroke-width="3"/>
<line x1="2241.30" y1="41.2" x2="2241.30" y2="56.2" stroke="#1a1a1a" stroke-width="3"/>
<line x1="2283.01" y1="829.7" x2="2283.01" y2="821.7" stroke="#1a1a1a" stroke-width="3"/>
<line x1="2283.01" y1="41.2" x2="2283.01" y2="49.2" stroke="#1a1a1a" stroke-width="3"/>
<text x="1311.5" y="761.50" text-anchor="end" font-size="36.5">5</text>
<text x="1311.5" y="603.70" text-anchor="end" font-size="36.5">10</text>
<text x="1311.5" y="445.90" text-anchor="end" font-size="36.5">15</text>
<text x="1311.5" y="288.10" text-anchor="end" font-size="36.5">20</text>
<text x="1311.5" y="130.30" text-anchor="end" font-size="36.5">25</text>
<text x="2337" y="51.70" font-size="36.5">0</text>
<text x="2337" y="150.26" font-size="36.5">5</text>
<text x="2337" y="248.82" font-size="36.5">10</text>
<text x="2337" y="347.39" font-size="36.5">15</text>
<text x="2337" y="445.95" font-size="36.5">20</text>
<text x="2337" y="544.51" font-size="36.5">25</text>
<text x="2337" y="643.08" font-size="36.5">30</text>
<text x="2337" y="741.64" font-size="36.5">35</text>
<text x="2337" y="840.20" font-size="36.5">40</text>
<text x="1433.20" y="871.3" text-anchor="end" transform="rotate(-45 1433.20 871.3)" font-size="34.0">2019/5/10</text>
<text x="1516.61" y="871.3" text-anchor="end" transform="rotate(-45 1516.61 871.3)" font-size="34.0">2019/5/20</text>
<text x="1600.02" y="871.3" text-anchor="end" transform="rotate(-45 1600.02 871.3)" font-size="34.0">2019/5/30</text>
<text x="1683.43" y="871.3" text-anchor="end" transform="rotate(-45 1683.43 871.3)" font-size="34.0">2019/6/9</text>
<text x="1766.84" y="871.3" text-anchor="end" transform="rotate(-45 1766.84 871.3)" font-size="34.0">2019/6/19</text>
<text x="1850.25" y="871.3" text-anchor="end" transform="rotate(-45 1850.25 871.3)" font-size="34.0">2019/6/29</text>
<text x="1933.66" y="871.3" text-anchor="end" transform="rotate(-45 1933.66 871.3)" font-size="34.0">2019/7/9</text>
<text x="2017.07" y="871.3" text-anchor="end" transform="rotate(-45 2017.07 871.3)" font-size="34.0">2019/7/19</text>
<text x="2100.48" y="871.3" text-anchor="end" transform="rotate(-45 2100.48 871.3)" font-size="34.0">2019/7/29</text>
<text x="2183.89" y="871.3" text-anchor="end" transform="rotate(-45 2183.89 871.3)" font-size="34.0">2019/8/8</text>
<text x="2267.30" y="871.3" text-anchor="end" transform="rotate(-45 2267.30 871.3)" font-size="34.0">2019/8/18</text>
<text x="1824.6" y="1017.7" text-anchor="middle" font-size="41.8">Time (d)</text>
<text x="1249" y="435.5" text-anchor="middle" transform="rotate(-90 1249 435.5)" font-size="41.8">SWC (m<tspan font-size="25" dy="-18">3</tspan><tspan dy="18">/m</tspan><tspan font-size="25" dy="-18">3</tspan><tspan dy="18">)</tspan></text>
<text x="2417.5" y="435.2" text-anchor="middle" transform="rotate(-90 2417.5 435.2)" font-size="42.6">Precipitation (mm)</text>
<text x="1399.3" y="109.5" font-size="48" font-weight="bold" letter-spacing="1.6">(b)</text>
<rect x="1364.5" y="360.7" width="93.3" height="45.6" fill="#00f4ff"/>
<line x1="1364.5" y1="433.8" x2="1457.8" y2="433.8" stroke="#f57f4b" stroke-width="3.5"/>
<line x1="1364.5" y1="484.6" x2="1457.8" y2="484.6" stroke="#6a1d79" stroke-width="3.5"/>
<text x="1468" y="398.2" font-size="41.5">Precipitation</text>
<text x="1468" y="447.9" font-size="41.5">Bare soil</text>
<text x="1468" y="498.4" font-size="41.5">Gravel</text>
</svg></body></html>
